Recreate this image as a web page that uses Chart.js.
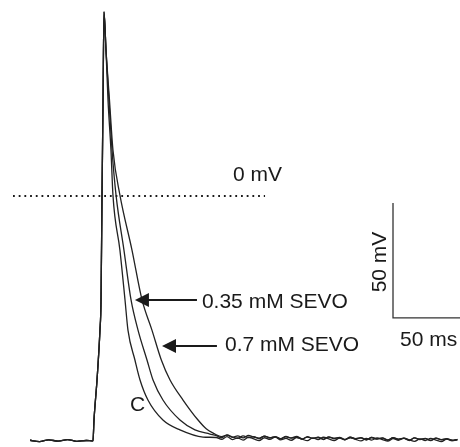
<!DOCTYPE html>
<html>
<head>
<meta charset="utf-8">
<script src="https://cdn.jsdelivr.net/npm/chart.js@4.4.1/dist/chart.umd.min.js"></script>
<style>
  html, body { margin: 0; padding: 0; background: #fff; }
  #wrap { width: 460px; height: 447px; position: relative; }
</style>
</head>
<body>
<div id="wrap"><canvas id="apChart"></canvas></div>
<script>
// time in ms (0 = start of upstroke), membrane potential in mV
const restTime = [-47, -40, -33, -26, -19, -12, -5, 0];
const restMv = [-106.2, -106.8, -106.0, -106.6, -105.9, -106.7, -106.3, -106.5];

const upTime = [0.75, 3.0, 5.2, 6.0, 6.7, 7.5, 8.2];
const upMv = [-97.4, -80.0, -58.3, -45.2, -1.7, 41.7, 80.0];

const ctrlTime = [9.7, 11.2, 13.4, 14.9, 20.1, 23.9, 26.1, 31.3, 35.1, 41.0, 52.2, 64.9, 82.1];
const ctrlMv = [63.5, 41.7, 20.0, 0.4, -23.5, -45.2, -58.3, -71.3, -80.0, -88.7, -97.4, -101.7, -104.8];

const sevo35Time = [9.7, 11.9, 14.2, 17.2, 23.1, 28.4, 33.6, 40.3, 44.8, 52.2, 64.9, 76.1, 87.3];
const sevo35Mv = [63.5, 41.7, 20.0, 0.4, -23.5, -45.2, -58.3, -71.3, -80.0, -88.7, -97.4, -101.7, -103.5];

const sevo7Time = [9.7, 12.3, 14.9, 20.1, 29.1, 36.6, 44.0, 51.0, 57.5, 67.2, 78.4, 84.5, 91.0];
const sevo7Mv = [63.5, 41.7, 20.0, 0.4, -23.5, -45.2, -58.3, -71.3, -80.0, -88.7, -97.4, -101.2, -103.5];

const tailTime = [92, 96, 100, 104, 108, 112, 116, 120, 124, 128, 132, 136, 140, 144, 148, 152,
  156, 160, 164, 168, 172, 176, 180, 184, 188, 192, 196, 200, 204, 208, 212, 216, 220, 224,
  228, 232, 236, 240, 244, 248, 252, 256, 260, 264, 268, 272];
const ctrlTail = [-105.0, -105.8, -104.6, -105.9, -105.2, -106.1, -104.9, -105.6, -106.3, -105.1,
  -105.8, -104.8, -106.0, -105.4, -106.2, -105.0, -105.7, -106.4, -105.2, -105.9, -104.9, -105.6,
  -106.3, -105.3, -106.0, -105.1, -105.8, -106.5, -105.4, -106.1, -105.2, -105.9, -106.6, -105.5,
  -106.2, -105.3, -106.0, -106.7, -105.6, -106.3, -105.4, -106.1, -106.8, -105.7, -106.4, -105.9];
const sevo35Tail = [-104.2, -105.1, -103.9, -104.8, -105.4, -104.3, -105.0, -104.6, -105.5, -104.4,
  -105.2, -104.7, -105.6, -104.5, -105.3, -104.9, -105.8, -104.6, -105.4, -105.0, -105.9, -104.8,
  -105.5, -105.1, -106.0, -104.9, -105.6, -105.2, -106.1, -105.0, -105.7, -105.3, -106.2, -105.1,
  -105.8, -105.4, -106.3, -105.2, -105.9, -105.5, -106.4, -105.3, -106.0, -105.6, -106.3, -106.0];
const sevo7Tail = [-103.8, -104.6, -104.0, -104.9, -104.3, -105.2, -104.1, -104.8, -105.3, -104.4,
  -105.1, -104.6, -105.5, -104.7, -105.2, -104.5, -105.6, -104.8, -105.4, -104.9, -105.7, -104.7,
  -105.3, -105.0, -105.8, -104.9, -105.5, -105.1, -105.9, -105.0, -105.6, -105.2, -106.0, -105.1,
  -105.7, -105.3, -106.1, -105.2, -105.8, -105.4, -106.2, -105.3, -105.9, -105.5, -106.2, -105.8];

const zeroLineTime = [-59.7, 128.4];
const scaleBarTime = [223.9, 223.9, 275];
const scaleBarMv = [-3.0, -53.0, -53.0];

function pts(xs, ys) {
    return xs.map(function (x, i) { return { x: x, y: ys[i] }; });
}

function trace(decayT, decayV, tailV) {
    return pts(restTime, restMv)
        .concat(pts(upTime, upMv))
        .concat(pts(decayT, decayV))
        .concat(pts(tailTime, tailV));
}

const traceStyle = {
    borderColor: '#222', borderWidth: 1.3, pointRadius: 0,
    cubicInterpolationMode: 'monotone', fill: false
};

// text labels and arrows, placed in data units
const annotations = {
    id: 'annotations',
    afterDatasetsDraw(chart) {
        const c = chart.ctx, xs = chart.scales.x, ys = chart.scales.y;
        const X = v => xs.getPixelForValue(v), Y = v => ys.getPixelForValue(v);
        c.save();
        c.fillStyle = '#1a1a1a';
        c.font = '21px "Liberation Sans", Arial, sans-serif';
        c.textBaseline = 'middle';
        c.textAlign = 'left';
        [['0 mV', 104.5, 9.1], ['0.35 mM SEVO', 81.3, -46.1], ['0.7 mM SEVO', 98.5, -64.8],
         ['50 ms', 229.1, -62.6], ['C', 27.6, -90.9]].forEach(function (t) {
            c.fillText(t[0], X(t[1]), Y(t[2]));
        });
        c.save();
        c.translate(X(214.2), Y(-28.7));
        c.rotate(-Math.PI / 2);
        c.textAlign = 'center';
        c.fillText('50 mV', 0, 0);
        c.restore();

        c.strokeStyle = '#1a1a1a';
        c.lineWidth = 2;
        [[77.6, 31.3, -45.2], [92.5, 51.5, -65.2]].forEach(function (a) {
            const x0 = X(a[0]), x1 = X(a[1]), y = Y(a[2]);
            c.beginPath();
            c.moveTo(x0, y);
            c.lineTo(x1 + 10, y);
            c.stroke();
            c.beginPath();
            c.moveTo(x1, y);
            c.lineTo(x1 + 14, y - 7);
            c.lineTo(x1 + 14, y + 7);
            c.closePath();
            c.fill();
        });
        c.restore();
    }
};

new Chart(document.getElementById('apChart').getContext('2d'), {
    type: 'line',
    data: {
        datasets: [
            Object.assign({ label: 'C', data: trace(ctrlTime, ctrlMv, ctrlTail) }, traceStyle),
            Object.assign({ label: '0.35 mM SEVO', data: trace(sevo35Time, sevo35Mv, sevo35Tail) }, traceStyle),
            Object.assign({ label: '0.7 mM SEVO', data: trace(sevo7Time, sevo7Mv, sevo7Tail) }, traceStyle),
            {
                label: '0 mV', data: pts(zeroLineTime, [0, 0]),
                borderColor: '#1a1a1a', borderWidth: 1.8, borderDash: [1.8, 3.9],
                pointRadius: 0, fill: false
            },
            {
                label: 'scale', data: pts(scaleBarTime, scaleBarMv),
                borderColor: '#333', borderWidth: 1.3, pointRadius: 0, fill: false
            }
        ]
    },
    options: {
        responsive: true,
        maintainAspectRatio: false,
        animation: false,
        layout: { padding: 0 },
        scales: {
            x: { type: 'linear', min: -69.4, max: 273.9, display: false },
            y: { type: 'linear', min: -109.13, max: 85.22, display: false }
        },
        plugins: {
            legend: { display: false },
            tooltip: { enabled: false }
        }
    },
    plugins: [annotations]
});
</script>
</body>
</html>
